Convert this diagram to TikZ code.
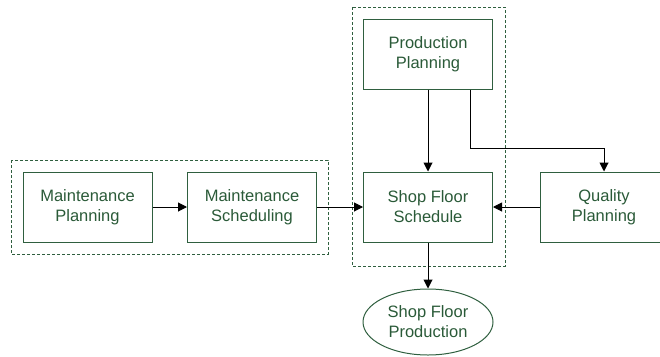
\documentclass[tikz,border=0pt]{standalone}
\usepackage{fontspec}
\setmainfont{Liberation Sans}
\usetikzlibrary{arrows.meta, shapes.geometric}
\definecolor{boxgreen}{HTML}{2F5F3F}
\definecolor{textgreen}{HTML}{2A5A38}

\begin{document}
\begin{tikzpicture}[x=1pt, y=-1pt,
    block/.style={draw=boxgreen, line width=1pt, text=textgreen, minimum width=129pt, minimum height=70pt,
        align=center, inner sep=0pt, font=\fontsize{16.5}{20}\selectfont},
    endblock/.style={block, ellipse, minimum width=130pt, minimum height=66pt},
    group/.style={draw=boxgreen, line width=0.8pt, dash pattern=on 3pt off 2pt},
    conn/.style={-{Triangle[length=9pt, width=9pt]}, line width=1pt}]
    \useasboundingbox (0,0) rectangle (660,356);
    \draw [group] (11,160) rectangle (328,254);
    \draw [group] (352,7) rectangle (505,266);
    \node [block] (mplan) at (87.5,207) {Maintenance\\Planning};
    \node [block] (msched) at (252,207) {Maintenance\\Scheduling};
    \node [block] (pplan) at (428,54) {Production\\Planning};
    \node [block] (sfsched) at (428,207) {Shop Floor\\Schedule};
    \node [block, minimum width=128pt] (qplan) at (604,207) {Quality\\Planning};
    \node [endblock] (sfprod) at (428,322) {Shop Floor\\Production};
    \draw [conn] (mplan) -- (msched);
    \draw [conn] (msched) -- (sfsched);
    \draw [conn] (qplan) -- (sfsched);
    \draw [conn] (pplan) -- (sfsched);
    \draw [conn] ([xshift=42pt]pplan.south) -- ++(0,59) -| (qplan.north);
    \draw [conn] (sfsched) -- (sfprod);
\end{tikzpicture}
\end{document}
